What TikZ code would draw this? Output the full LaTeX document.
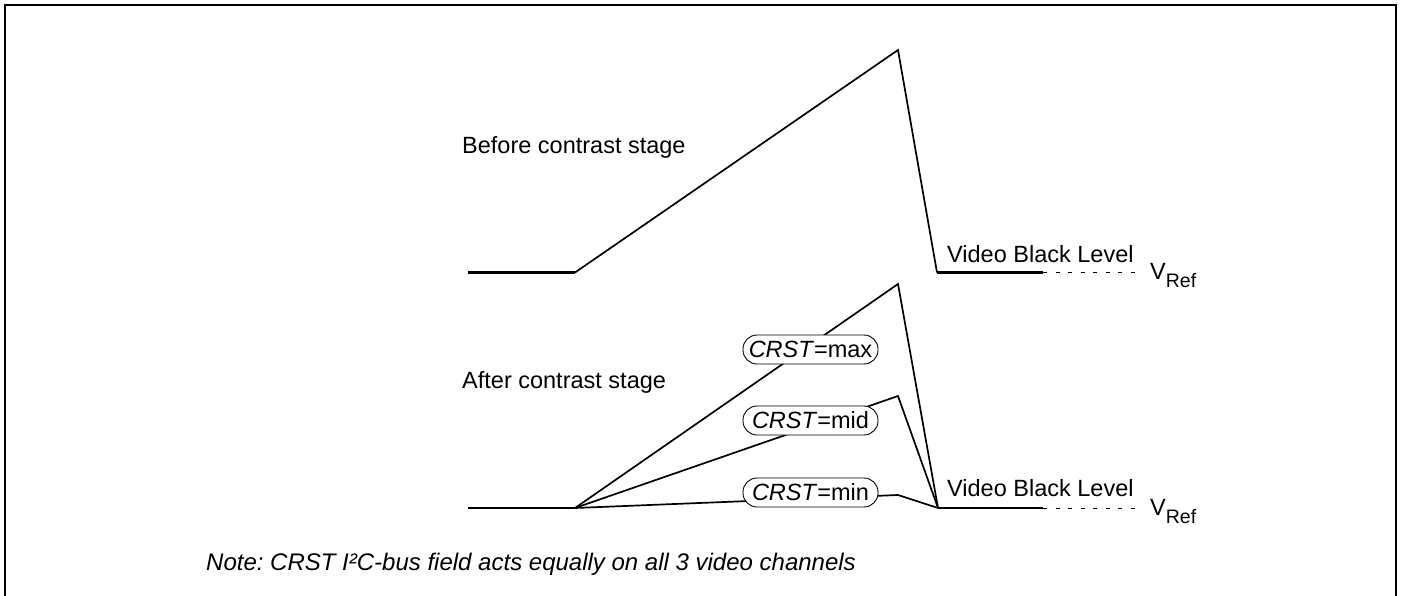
\documentclass[tikz,border=0pt]{standalone}
\usepackage{fontspec}
\setmainfont{Liberation Sans}
\begin{document}
\begin{tikzpicture}[x=1pt,y=-1pt,
  txt/.style={inner sep=0pt,anchor=base west,font=\fontsize{23.5}{28}\selectfont},
  note/.style={txt,font=\fontsize{24}{28}\selectfont\itshape\frenchspacing},
  crst/.style={draw,line width=0.9pt,fill=white,rounded corners=14pt,minimum height=29pt,minimum width=135pt,inner sep=0pt,font=\fontsize{23.5}{28}\selectfont},
  wave/.style={line width=1.7pt,line join=miter},
  flat/.style={line width=2.2pt},
  refdash/.style={line width=1pt,dash pattern=on 4pt off 8.5pt}
]
\useasboundingbox (0,0) rectangle (1401,595);
\draw[line width=2.2pt] (5,600) -- (5,5) -- (1396,5) -- (1396,600);

% top waveform
\coordinate (t0) at (468,272.5);
\coordinate (t1) at (575,272.5);
\coordinate (tp) at (898,50);
\coordinate (t2) at (937,272.5);
\coordinate (t3) at (1043,272.5);
\coordinate (t4) at (1135,272.5);
\draw[flat] (t0) -- (t1);
\draw[wave] (t1) -- (tp) -- (t2);
\draw[flat] (t2) -- (t3);
\draw[refdash] (t3) -- (t4);
\node[txt] (before) at (462,153) {Before contrast stage};
\node[txt] (vbl1) at (947,262) {Video Black Level};
\node[txt] (vref1) at (1150,279) {V\raisebox{-8pt}{\fontsize{19.5}{20}\selectfont Ref}};

% bottom waveform
\coordinate (b0) at (468,508);
\coordinate (b1) at (575,508);
\coordinate (pmax) at (898,284);
\coordinate (pmid) at (898,396);
\coordinate (pmin) at (898,495);
\coordinate (b2) at (938,508);
\coordinate (b3) at (1043,508);
\coordinate (b4) at (1135,508);
\draw[flat] (b0) -- (b1);
\draw[wave] (b1) -- (pmax) -- (b2);
\draw[wave] (b1) -- (pmid) -- (b2);
\draw[wave] (b1) -- (pmin) -- (b2);
\draw[flat] (b2) -- (b3);
\draw[refdash] (b3) -- (b4);
\node[txt] (after) at (462,388) {After contrast stage};
\node[txt] (vbl2) at (947,496) {Video Black Level};
\node[txt] (vref2) at (1150,515) {V\raisebox{-8pt}{\fontsize{19.5}{20}\selectfont Ref}};

\node[crst] (lmax) at (810.5,349.5) {\textit{CRST}=max};
\node[crst] (lmid) at (810.5,420.5) {\textit{CRST}=mid};
\node[crst] (lmin) at (810.5,492.5) {\textit{CRST}=min};

\node[note] (notetxt) at (206,570) {Note: CRST I²C-bus field acts equally on all 3 video channels};
\end{tikzpicture}
\end{document}
